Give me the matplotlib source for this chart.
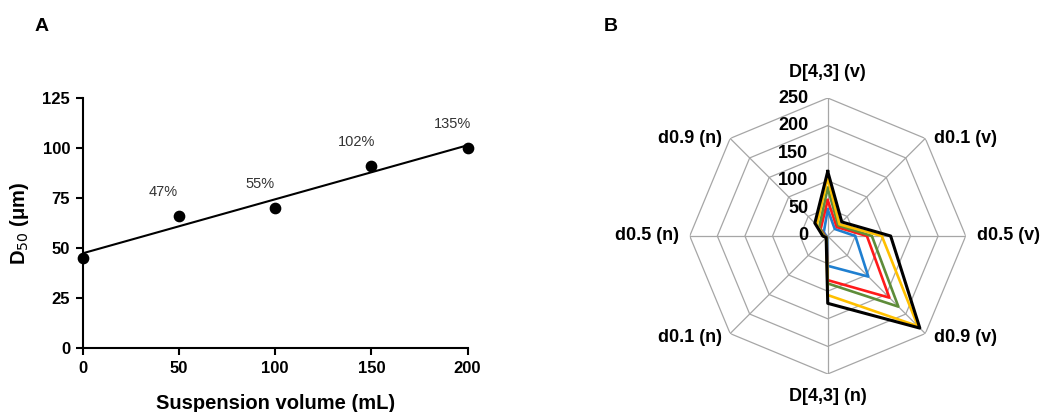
import numpy as np
import matplotlib
matplotlib.use("Agg")
import matplotlib.pyplot as plt

plt.rcParams['font.family'] = ['Liberation Sans', 'DejaVu Sans']

# panel A data
volume = [0, 50, 100, 150, 200]
d50 = [45, 66, 70, 91, 100]
pct_labels = ['', '47%', '55%', '102%', '135%']

# panel B data (radar)
categories = ['D[4,3] (v)', 'd0.1 (v)', 'd0.5 (v)', 'd0.9 (v)',
              'D[4,3] (n)', 'd0.1 (n)', 'd0.5 (n)', 'd0.9 (n)']
blue = [48, 18, 50, 104, 54, 2, 3, 10]
red = [65, 23, 71, 158, 80, 3, 5, 18]
green = [87, 27, 80, 181, 86, 3, 6, 22]
yellow = [105, 30, 98, 231, 107, 4, 8, 28]
black = [117, 36, 114, 236, 122, 4, 9, 33]
rings = [0, 50, 100, 150, 200, 250]

fig = plt.figure(figsize=(10.43, 4.12), dpi=100)

# ---- A ----
ax = fig.add_axes([0.0793, 0.155, 0.369, 0.607])
ax.scatter(volume, d50, s=55, color='black', zorder=3, clip_on=False)
slope, icpt = np.polyfit(volume, d50, 1)
xx = np.array([0, 200])
ax.plot(xx, slope * xx + icpt, color='black', lw=1.5)
for x, y, t in zip(volume, d50, pct_labels):
    if t:
        ax.annotate(t, xy=(x, y), xytext=(-11, 12), textcoords='offset points',
                    ha='center', va='bottom', fontsize=10.5, color='#333333')
ax.set_xlim(0, 200)
ax.set_ylim(0, 125)
ax.set_xticks([0, 50, 100, 150, 200])
ax.set_yticks([0, 25, 50, 75, 100, 125])
ax.spines['top'].set_visible(False)
ax.spines['right'].set_visible(False)
ax.spines['left'].set_linewidth(1.5)
ax.spines['bottom'].set_linewidth(1.5)
ax.tick_params(width=1.5, length=5, labelsize=12, pad=4)
for lb in ax.get_xticklabels() + ax.get_yticklabels():
    lb.set_fontweight('bold')
ax.set_xlabel('Suspension volume (mL)', fontsize=14.5, fontweight='bold', labelpad=13)
ax.set_ylabel('D$_{50}$ (\u03bcm)', fontsize=14.5, fontweight='bold', labelpad=8)
fig.text(0.040, 0.935, 'A', fontsize=14, fontweight='bold', ha='center', va='center')
fig.text(0.586, 0.935, 'B', fontsize=14, fontweight='bold', ha='center', va='center')

# ---- B ----
n = len(categories)
theta = np.arange(n) * 2 * np.pi / n
pax = fig.add_axes([0.6613, 0.0922, 0.2646, 0.670], projection='polar')
pax.set_theta_offset(np.pi / 2)
pax.set_theta_direction(-1)
pax.set_ylim(0, 250)
pax.grid(False)
pax.spines['polar'].set_visible(False)
pax.set_xticks([])
pax.set_yticks([])
tc = np.append(theta, theta[0])
for r in rings[1:]:
    pax.plot(tc, [r] * (n + 1), color='#a6a6a6', lw=0.9, zorder=1)
for t in theta:
    pax.plot([t, t], [0, 250], color='#a6a6a6', lw=0.9, zorder=1)

series = [(blue, '#1f7fd0'), (red, '#ff1a1a'), (green, '#5e8c3a'),
          (yellow, '#ffc000'), (black, '#000000')]
for vals, col in series:
    v = list(vals) + [vals[0]]
    pax.plot(tc, v, color=col, lw=1.9 if col != '#000000' else 2.2, zorder=3)

for r in rings:
    pax.annotate(str(r), xy=(0, r), xytext=(-14, 0), textcoords='offset points',
                 ha='right', va='center', fontsize=13, fontweight='bold',
                 annotation_clip=False)

lab_off = [(0, 12, 'center', 'bottom'), (6, 0, 'left', 'center'),
           (8, 0, 'left', 'center'), (6, -3, 'left', 'center'),
           (0, -10, 'center', 'top'), (-6, -3, 'right', 'center'),
           (-8, 0, 'right', 'center'), (-6, 0, 'right', 'center')]
for t, c, (dx, dy, ha, va) in zip(theta, categories, lab_off):
    pax.annotate(c, xy=(t, 250), xytext=(dx, dy), textcoords='offset points',
                 ha=ha, va=va, fontsize=13, fontweight='bold', annotation_clip=False)

fig.savefig('out.png', dpi=100)
